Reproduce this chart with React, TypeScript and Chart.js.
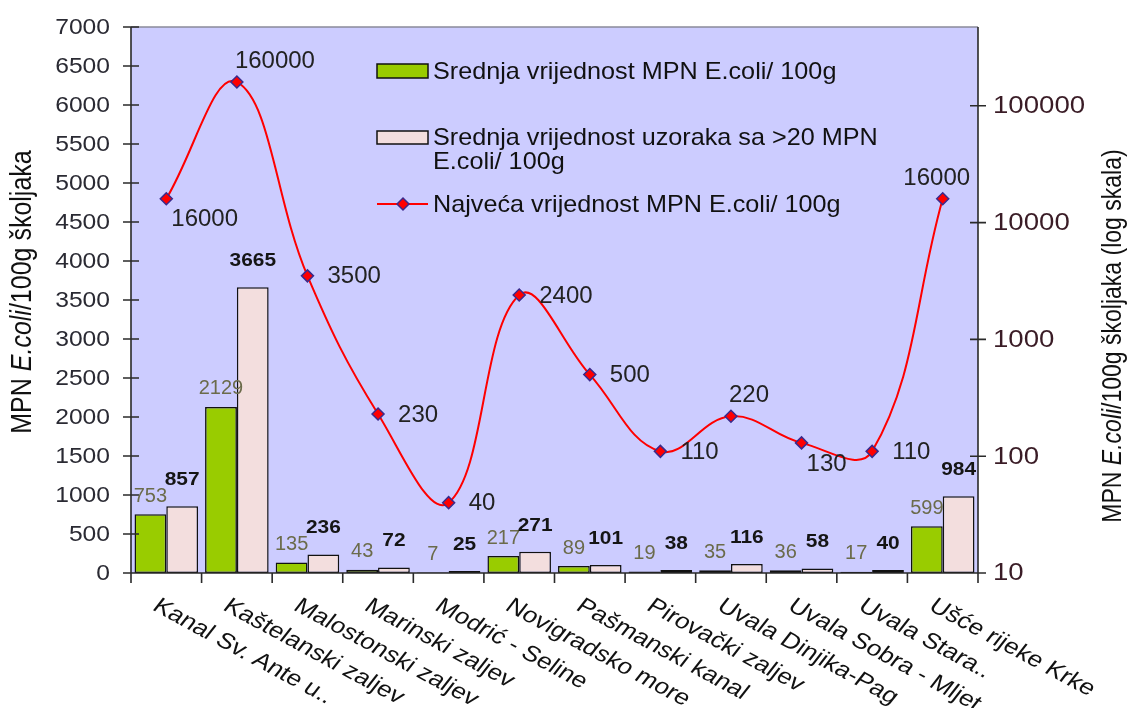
import React, { useEffect, useRef } from "react";
import { Chart, registerables } from "chart.js";

Chart.register(...registerables);

// ---------- data ----------
const categories = [
  "Kanal Sv. Ante u..",
  "Kaštelanski zaljev",
  "Malostonski zaljev",
  "Marinski zaljev",
  "Modrić - Seline",
  "Novigradsko more",
  "Pašmanski kanal",
  "Pirovački zaljev",
  "Uvala Dinjika-Pag",
  "Uvala Sobra - Mljet",
  "Uvala Stara..",
  "Ušće rijeke Krke",
];
const meanValues = [753, 2129, 135, 43, 7, 217, 89, 19, 35, 36, 17, 599];
const meanOver20Values = [857, 3665, 236, 72, 25, 271, 101, 38, 116, 58, 40, 984];
const maxValues = [16000, 160000, 3500, 230, 40, 2400, 500, 110, 220, 130, 110, 16000];

const leftTickValues = [0, 500, 1000, 1500, 2000, 2500, 3000, 3500, 4000, 4500, 5000, 5500, 6000, 6500, 7000];
const rightTickValues = [10, 100, 1000, 10000, 100000];

const seriesMeanLabel = "Srednja vrijednost MPN E.coli/ 100g";
const seriesOver20Label = "Srednja vrijednost uzoraka sa >20 MPN E.coli/ 100g";
const seriesMaxLabel = "Najveća vrijednost MPN E.coli/ 100g";

const leftTitle = [
  { text: "MPN ", italic: false },
  { text: "E.coli", italic: true },
  { text: "/100g školjaka", italic: false },
];
const rightTitle = [
  { text: "MPN ", italic: false },
  { text: "E.coli", italic: true },
  { text: "/100g školjaka (log skala)", italic: false },
];

// label placement for the max-value line (annotation style)
const maxLabelPlacement = ["below", "above", "right", "right", "right", "right", "right", "right", "above", "below", "right", "aboveC"];

// ---------- styles ----------
const FONT = '"Liberation Sans", Arial, Helvetica, sans-serif';
const GREEN = "#99CC00";
const PINK = "#F3DEDE";
const PLOT_BG = "#CCCCFF";
const RED = "#FF0000";
const MARKER_BORDER = "#3B2A8C";

function font(size: number, weight = "normal", style = "normal") {
  return `${style} ${weight} ${size}px ${FONT}`;
}

function textAt(ctx: CanvasRenderingContext2D, t: string, x: number, y: number, sx: number) {
  ctx.save();
  ctx.translate(x, y);
  ctx.scale(sx, 1);
  ctx.fillText(t, 0, 0);
  ctx.restore();
}

function drawRich(ctx: CanvasRenderingContext2D, parts: { text: string; italic: boolean }[], size: number) {
  let total = 0;
  const widths = parts.map((p) => {
    ctx.font = font(size, "normal", p.italic ? "italic" : "normal");
    const w = ctx.measureText(p.text).width;
    total += w;
    return w;
  });
  let x = -total / 2;
  ctx.textAlign = "left";
  ctx.textBaseline = "middle";
  parts.forEach((p, i) => {
    ctx.font = font(size, "normal", p.italic ? "italic" : "normal");
    ctx.fillText(p.text, x, 0);
    x += widths[i];
  });
}

function wrapText(ctx: CanvasRenderingContext2D, text: string, maxW: number) {
  const words = text.split(" ");
  const lines: string[] = [];
  let cur = "";
  for (const w of words) {
    const t = cur ? cur + " " + w : w;
    if (ctx.measureText(t).width > maxW && cur) {
      lines.push(cur);
      cur = w;
    } else cur = t;
  }
  if (cur) lines.push(cur);
  return lines;
}

const customPlugin = {
  id: "customDecor",
  beforeDatasetsDraw(chart: any) {
    const { ctx, chartArea: a } = chart;
    ctx.save();
    ctx.fillStyle = PLOT_BG;
    ctx.fillRect(a.left, a.top, a.right - a.left, a.bottom - a.top);
    ctx.restore();
  },
  afterDatasetsDraw(chart: any) {
    const { ctx, chartArea: a, scales } = chart;
    const xs = scales.x;
    const yl = scales.y;
    const yr = scales.y1;
    ctx.save();

    // top frame
    ctx.strokeStyle = "#8a8a9a";
    ctx.lineWidth = 1.5;
    ctx.beginPath();
    ctx.moveTo(a.left, a.top);
    ctx.lineTo(a.right, a.top);
    ctx.stroke();

    // axes lines and ticks
    ctx.strokeStyle = "#2a2a2a";
    ctx.lineWidth = 1.6;
    ctx.beginPath();
    ctx.moveTo(a.left, a.top);
    ctx.lineTo(a.left, a.bottom + 9);
    ctx.moveTo(a.right, a.top);
    ctx.lineTo(a.right, a.bottom + 9);
    ctx.moveTo(a.left - 8, a.bottom);
    ctx.lineTo(a.right + 8, a.bottom);
    leftTickValues.forEach((v) => {
      const y = yl.getPixelForValue(v);
      ctx.moveTo(a.left - 8, y);
      ctx.lineTo(a.left + 8, y);
    });
    rightTickValues.forEach((v) => {
      const y = yr.getPixelForValue(v);
      ctx.moveTo(a.right - 8, y);
      ctx.lineTo(a.right + 8, y);
    });
    for (let i = 0; i <= categories.length; i++) {
      const x = xs.getPixelForValue(i - 0.5);
      ctx.moveTo(x, a.bottom);
      ctx.lineTo(x, a.bottom + 10);
    }
    ctx.stroke();

    // left tick labels
    ctx.font = font(22);
    ctx.fillStyle = "#2a2a33";
    ctx.textAlign = "right";
    ctx.textBaseline = "middle";
    leftTickValues.forEach((v) => {
      textAt(ctx, String(v), a.left - 21, yl.getPixelForValue(v) + 1, 1.12);
    });
    // right tick labels
    ctx.font = font(23);
    ctx.fillStyle = "#3a1c26";
    ctx.textAlign = "left";
    rightTickValues.forEach((v) => {
      textAt(ctx, String(v), a.right + 15, yr.getPixelForValue(v) + 1, 1.2);
    });

    // axis titles (vertical, slightly widened glyphs)
    ctx.fillStyle = "#111111";
    ctx.save();
    ctx.translate(23, (a.top + a.bottom) / 2 - 8);
    ctx.scale(1.2, 1);
    ctx.rotate(-Math.PI / 2);
    drawRich(ctx, leftTitle, 25);
    ctx.restore();
    ctx.save();
    ctx.translate(1113, (a.top + a.bottom) / 2 + 36);
    ctx.scale(1.2, 1);
    ctx.rotate(-Math.PI / 2);
    drawRich(ctx, rightTitle, 23);
    ctx.restore();

    // category labels (rotated clockwise, widened)
    ctx.fillStyle = "#111111";
    ctx.font = font(22);
    ctx.textAlign = "left";
    ctx.textBaseline = "top";
    categories.forEach((c, i) => {
      const x = xs.getPixelForValue(i);
      ctx.save();
      ctx.translate(x - 4, a.bottom + 22);
      ctx.scale(1.2, 1);
      ctx.rotate((33 * Math.PI) / 180);
      ctx.fillText(c, 0, 0);
      ctx.restore();
    });

    // bar value labels
    const m0 = chart.getDatasetMeta(0);
    const m1 = chart.getDatasetMeta(1);
    ctx.textAlign = "center";
    ctx.textBaseline = "bottom";
    ctx.font = font(20);
    ctx.fillStyle = "#6b6b4b";
    m0.data.forEach((el: any, i: number) => {
      textAt(ctx, String(chart.data.datasets[0].data[i]), el.x, el.y - 8, 1.0);
    });
    ctx.font = font(19, "bold");
    ctx.fillStyle = "#151515";
    m1.data.forEach((el: any, i: number) => {
      textAt(ctx, String(chart.data.datasets[1].data[i]), el.x, el.y - 17, 1.1);
    });

    ctx.restore();
  },
  afterDraw(chart: any) {
    const { ctx, chartArea: a } = chart;
    ctx.save();
    // line value labels
    const m2 = chart.getDatasetMeta(2);
    ctx.font = font(24);
    ctx.fillStyle = "#222222";
    ctx.textBaseline = "middle";
    m2.data.forEach((el: any, i: number) => {
      const t = String(chart.data.datasets[2].data[i]);
      const p = maxLabelPlacement[i];
      if (p === "right") {
        ctx.textAlign = "left";
        ctx.fillText(t, el.x + 20, el.y + 1);
      } else if (p === "below") {
        ctx.textAlign = "left";
        ctx.fillText(t, el.x + 5, el.y + 21);
      } else if (p === "above") {
        ctx.textAlign = "left";
        ctx.fillText(t, el.x - 2, el.y - 21);
      } else {
        ctx.textAlign = "center";
        ctx.fillText(t, el.x - 6, el.y - 20);
      }
    });

    // legend
    const lx = a.left + 246;
    const tx = lx + 56;
    const SX = 1.05;
    ctx.font = font(24);
    ctx.textAlign = "left";
    ctx.textBaseline = "middle";
    const ds = chart.data.datasets;
    // item 1
    let y = a.top + 44;
    ctx.fillStyle = ds[0].backgroundColor;
    ctx.fillRect(lx, y - 7, 51, 14);
    ctx.strokeStyle = "#111";
    ctx.lineWidth = 1.5;
    ctx.strokeRect(lx, y - 7, 51, 14);
    ctx.fillStyle = "#111111";
    textAt(ctx, ds[0].label, tx, y + 1, SX);
    // item 2
    y = a.top + 110;
    ctx.fillStyle = ds[1].backgroundColor;
    ctx.fillRect(lx, y - 6, 51, 13);
    ctx.strokeRect(lx, y - 6, 51, 13);
    ctx.fillStyle = "#111111";
    const lines = wrapText(ctx, ds[1].label, 450);
    lines.forEach((ln, k) => textAt(ctx, ln, tx, y + 1 + k * 24, SX));
    // item 3
    y = a.top + 177;
    ctx.strokeStyle = RED;
    ctx.lineWidth = 2;
    ctx.beginPath();
    ctx.moveTo(lx, y);
    ctx.lineTo(lx + 51, y);
    ctx.stroke();
    ctx.beginPath();
    const cx = lx + 26;
    ctx.moveTo(cx - 6, y);
    ctx.lineTo(cx, y - 6);
    ctx.lineTo(cx + 6, y);
    ctx.lineTo(cx, y + 6);
    ctx.closePath();
    ctx.fillStyle = RED;
    ctx.fill();
    ctx.strokeStyle = MARKER_BORDER;
    ctx.lineWidth = 1.5;
    ctx.stroke();
    ctx.fillStyle = "#111111";
    textAt(ctx, ds[2].label, tx, y + 1, SX);

    ctx.restore();
  },
};

export default function App() {
  const ref = useRef<HTMLCanvasElement | null>(null);

  useEffect(() => {
    document.body.style.margin = "0";
    const canvas = ref.current;
    if (!canvas) return;
    const chart = new Chart(canvas, {
      type: "bar",
      data: {
        labels: categories,
        datasets: [
          {
            type: "bar",
            label: seriesMeanLabel,
            data: meanValues,
            backgroundColor: GREEN,
            borderColor: "#111111",
            borderWidth: 1.5,
            borderSkipped: false,
            yAxisID: "y",
            order: 2,
            categoryPercentage: 0.9,
            barPercentage: 1.0,
          } as any,
          {
            type: "bar",
            label: seriesOver20Label,
            data: meanOver20Values,
            backgroundColor: PINK,
            borderColor: "#111111",
            borderWidth: 1.5,
            borderSkipped: false,
            yAxisID: "y",
            order: 2,
            categoryPercentage: 0.9,
            barPercentage: 1.0,
          } as any,
          {
            type: "line",
            label: seriesMaxLabel,
            data: maxValues,
            borderColor: RED,
            borderWidth: 2,
            tension: 0.4,
            pointStyle: "rectRot",
            pointRadius: 6,
            pointBackgroundColor: RED,
            pointBorderColor: MARKER_BORDER,
            pointBorderWidth: 1.5,
            yAxisID: "y1",
            order: 1,
            fill: false,
          } as any,
        ],
      },
      options: {
        responsive: false,
        animation: false,
        devicePixelRatio: 1,
        layout: { padding: { top: 27, left: 0, right: 0, bottom: 0 } },
        plugins: {
          legend: { display: false },
          tooltip: { enabled: false },
        },
        scales: {
          x: {
            type: "category",
            offset: true,
            grid: { display: false },
            border: { display: false },
            ticks: { display: false },
            afterFit: (s: any) => {
              s.height = 135;
            },
          },
          y: {
            type: "linear",
            position: "left",
            min: 0,
            max: 7000,
            grid: { display: false },
            border: { display: false },
            ticks: { display: false, stepSize: 500 },
            afterFit: (s: any) => {
              s.width = 131;
            },
          },
          y1: {
            type: "logarithmic",
            position: "right",
            min: 10,
            max: 473000,
            grid: { display: false },
            border: { display: false },
            ticks: { display: false },
            afterFit: (s: any) => {
              s.width = 152;
            },
          },
        },
      } as any,
      plugins: [customPlugin as any],
    });
    return () => chart.destroy();
  }, []);

  return (
    <div style={{ width: 1130, height: 708, background: "#ffffff" }}>
      <canvas ref={ref} width={1130} height={708} style={{ display: "block" }} />
    </div>
  );
}
